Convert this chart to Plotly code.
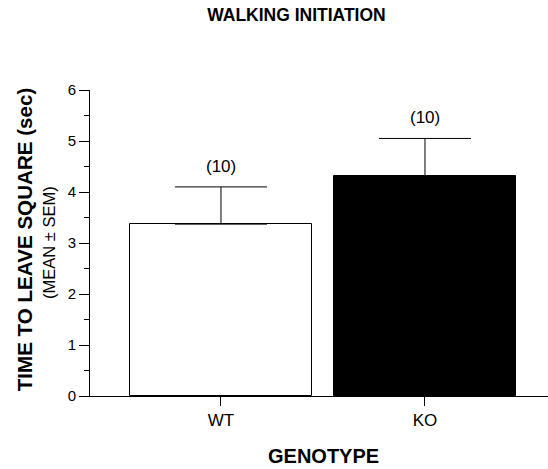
import plotly.graph_objects as go

genotypes = ["WT", "KO"]
means = [3.37, 4.31]
sems = [0.73, 0.74]
n_labels = ["(10)", "(10)"]
bar_colors = ["white", "black"]

FONT = "Liberation Sans, Arial, Helvetica, sans-serif"

fig = go.Figure()
fig.add_trace(go.Bar(
    x=genotypes, y=means, width=0.89,
    marker=dict(color=bar_colors, line=dict(color="black", width=1)),
    error_y=dict(type="data", array=sems, arrayminus=[0, 0], symmetric=False,
                 color="black", thickness=1, width=46),
    showlegend=False,
))

for g, m, s, lab in zip(genotypes, means, sems, n_labels):
    fig.add_annotation(x=g, y=m + s, text=lab, showarrow=False, yanchor="bottom",
                       yshift=9, font=dict(size=17, color="black", family=FONT))

# axis titles as annotations
fig.add_annotation(xref="paper", yref="paper", x=0, y=0.512, xshift=-66,
                   text="<b>TIME TO LEAVE SQUARE (sec)</b>", textangle=-90,
                   showarrow=False, xanchor="center", yanchor="middle",
                   font=dict(size=20.6, family=FONT, color="black"))
fig.add_annotation(xref="paper", yref="paper", x=0, y=0.50, xshift=-41,
                   text="(MEAN ± SEM)", textangle=-90,
                   showarrow=False, xanchor="center", yanchor="middle",
                   font=dict(size=16.5, family=FONT, color="black"))
fig.add_annotation(xref="paper", yref="paper", x=0.509, y=0, yshift=-60,
                   text="<b>GENOTYPE</b>", showarrow=False,
                   xanchor="center", yanchor="middle",
                   font=dict(size=20, family=FONT, color="black"))

fig.update_layout(
    width=548, height=469,
    margin=dict(l=90, r=0, t=90, b=73),
    paper_bgcolor="white", plot_bgcolor="white",
    font=dict(family=FONT, color="black", size=15),
    title=dict(text="<b>WALKING INITIATION</b>", x=0.541, xanchor="center",
               y=0.968, yanchor="middle", font=dict(size=17.5, family=FONT)),
    bargap=0,
)
fig.update_xaxes(
    range=[-0.642, 1.603], showline=True, linecolor="black", linewidth=1,
    ticks="outside", ticklen=9, tickcolor="black", showgrid=False, zeroline=False,
    automargin=False, tickfont=dict(size=17),
)
fig.update_yaxes(
    range=[0, 6], dtick=1, showline=True, linecolor="black", linewidth=1,
    ticks="outside", ticklen=10, tickcolor="black", showgrid=False, zeroline=False,
    minor=dict(dtick=0.5, ticks="outside", ticklen=5, tickcolor="black", showgrid=False),
    automargin=False, tickfont=dict(size=15),
)

fig.write_html("out.html", config={"displayModeBar": False},
               post_script="document.body.style.margin='0';")
